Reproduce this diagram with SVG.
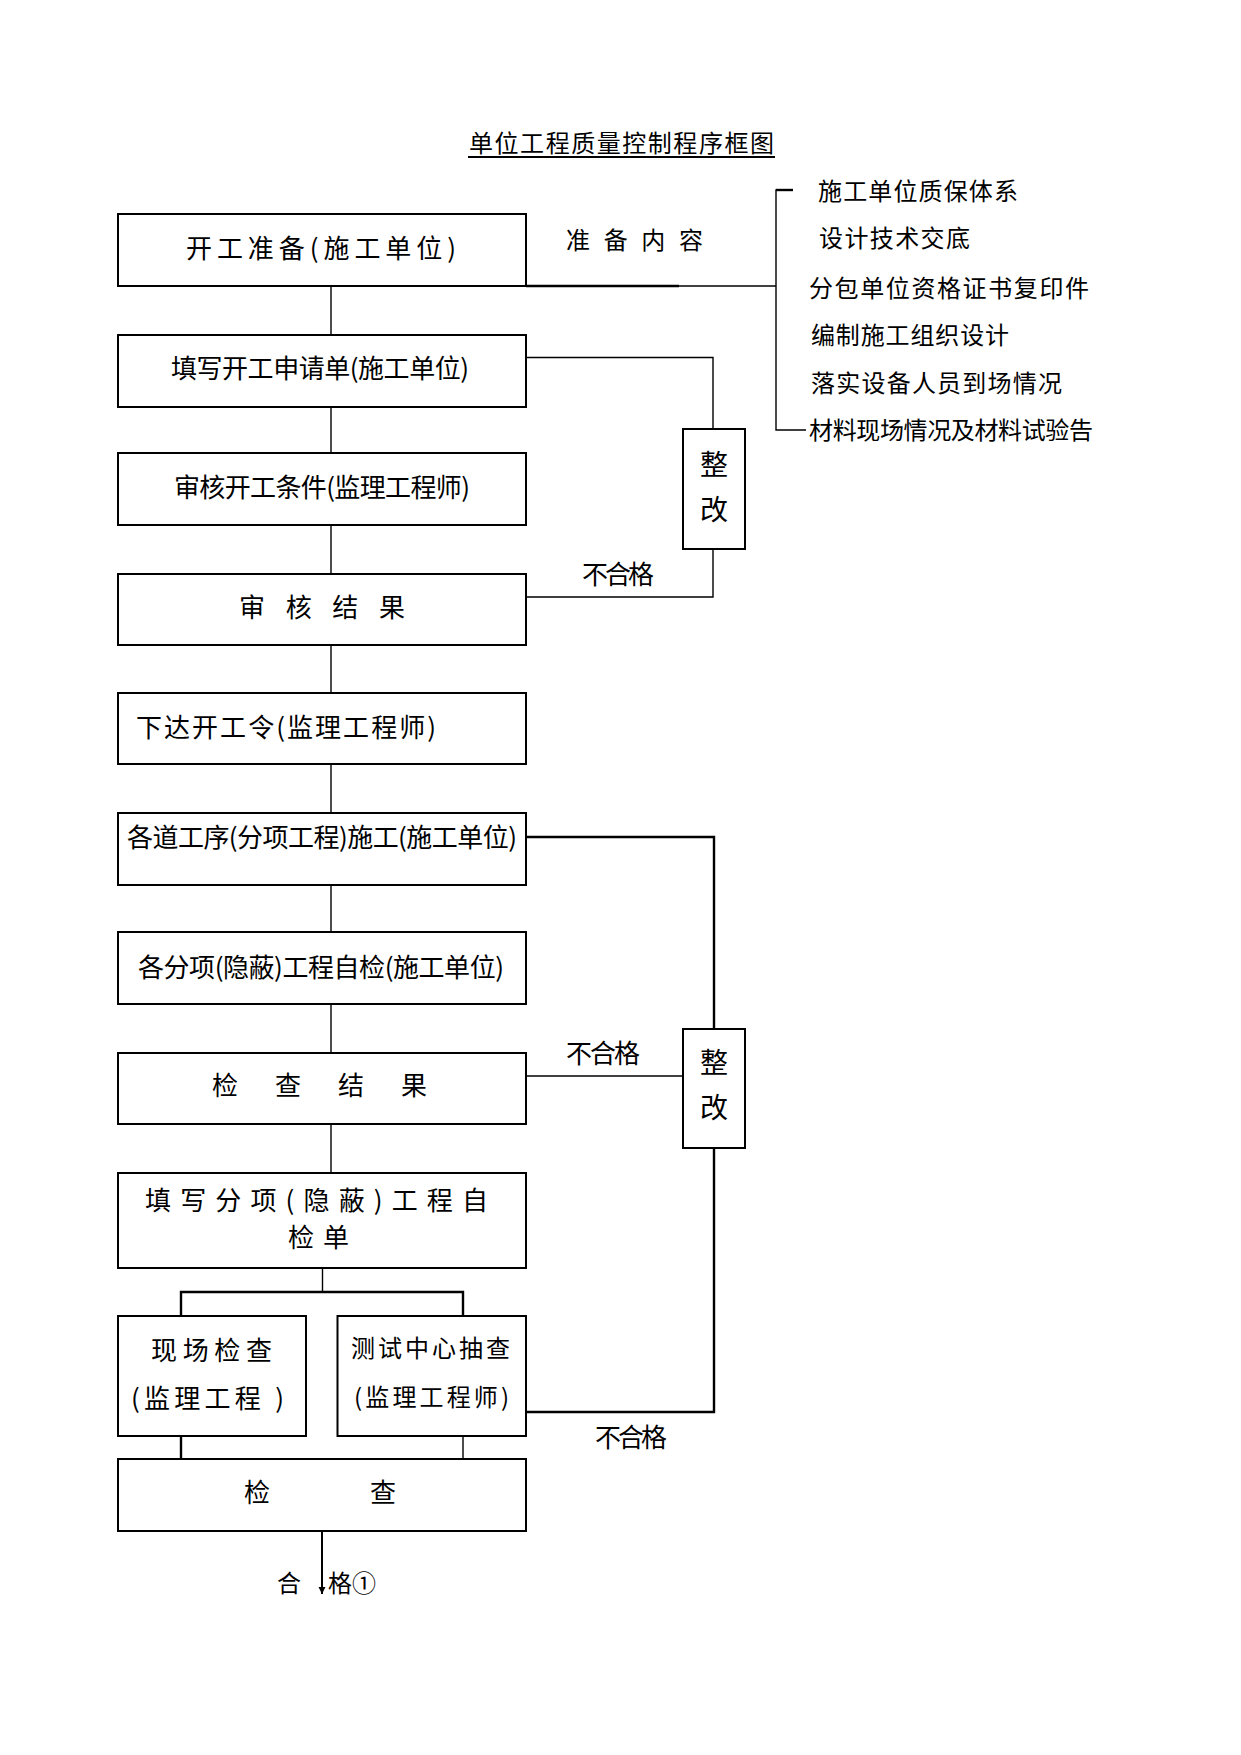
<svg xmlns="http://www.w3.org/2000/svg" width="1241" height="1755" viewBox="0 0 1241 1755">
<style>
text{font-family:"Noto Sans CJK SC","Noto Sans",sans-serif;fill:#000;dominant-baseline:central}
.b{fill:#fff;stroke:#000;stroke-width:2}
.c{fill:none;stroke:#000;stroke-width:1.4}
.t{fill:none;stroke:#000;stroke-width:2.4}
.f26{font-size:26px}.f24{font-size:24px}.f28{font-size:28px}
</style>
<defs>
<marker id="ah" viewBox="0 0 10 10" refX="10" refY="5" markerWidth="7" markerHeight="9" orient="auto" markerUnits="userSpaceOnUse"><path d="M0,0 L10,5 L0,10 Z" fill="#000"/></marker>
</defs>
<rect width="1241" height="1755" fill="#fff"/>
<g id="title">
<text x="469" y="141" class="f24" textLength="305" lengthAdjust="spacing">单位工程质量控制程序框图</text>
<line x1="468" y1="157" x2="775" y2="157" stroke="#000" stroke-width="2"/>
</g>
<g id="connectors">
<line class="c" x1="331" y1="286" x2="331" y2="335"/>
<line class="c" x1="331" y1="407" x2="331" y2="453"/>
<line class="c" x1="331" y1="525" x2="331" y2="574"/>
<line class="c" x1="331" y1="645" x2="331" y2="693"/>
<line class="c" x1="331" y1="764" x2="331" y2="813"/>
<line class="c" x1="331" y1="885" x2="331" y2="932"/>
<line class="c" x1="331" y1="1004" x2="331" y2="1053"/>
<line class="c" x1="331" y1="1124" x2="331" y2="1173"/>
<line x1="526" y1="286" x2="679" y2="286" stroke="#000" stroke-width="2.6"/>
<line class="c" x1="679" y1="286" x2="776" y2="286"/>
<polyline class="c" points="793,190 776,190 776,430 806,430"/>
<line x1="776" y1="190" x2="793" y2="190" stroke="#000" stroke-width="2.4"/>
<polyline class="c" points="526,357.5 713,357.5 713,429"/>
<polyline class="c" points="713,549 713,597 526,597"/>
<polyline class="t" points="526,837 714,837 714,1029"/>
<polyline class="t" points="714,1148 714,1412 526,1412"/>
<line class="c" x1="526" y1="1076" x2="683" y2="1076"/>
<line class="c" x1="322.5" y1="1268" x2="322.5" y2="1292"/>
<polyline class="t" points="181,1316 181,1292 463,1292 463,1316"/>
<line class="t" x1="181" y1="1436" x2="181" y2="1459"/>
<line class="c" x1="463" y1="1436" x2="463" y2="1459"/>
<line x1="322" y1="1531" x2="322" y2="1594" stroke="#000" stroke-width="2" marker-end="url(#ah)"/>
</g>
<g id="n1"><rect class="b" x="118" y="214" width="408" height="72"/><text x="186" y="246" class="f26" textLength="270" lengthAdjust="spacing">开工准备(施工单位)</text></g>
<g id="prep"><text x="566" y="238" class="f24" textLength="137" lengthAdjust="spacing">准备内容</text></g>
<g id="list">
<text x="818" y="189" class="f24" textLength="200" lengthAdjust="spacing">施工单位质保体系</text>
<text x="819" y="236" class="f24" textLength="151" lengthAdjust="spacing">设计技术交底</text>
<text x="809" y="286" class="f24" textLength="280" lengthAdjust="spacing">分包单位资格证书复印件</text>
<text x="811" y="333" class="f24" textLength="198" lengthAdjust="spacing">编制施工组织设计</text>
<text x="811" y="381" class="f24" textLength="251" lengthAdjust="spacing">落实设备人员到场情况</text>
<text x="809" y="428" class="f24" textLength="284" lengthAdjust="spacing">材料现场情况及材料试验告</text>
</g>
<g id="n2"><rect class="b" x="118" y="335" width="408" height="72"/><text x="171" y="366" class="f26" textLength="298" lengthAdjust="spacing">填写开工申请单(施工单位)</text></g>
<g id="n3"><rect class="b" x="118" y="453" width="408" height="72"/><text x="174" y="485" class="f26" textLength="296" lengthAdjust="spacing">审核开工条件(监理工程师)</text></g>
<g id="fix1"><rect class="b" x="683" y="429" width="62" height="120"/><text x="714" y="463" class="f28" text-anchor="middle">整</text><text x="714" y="508" class="f28" text-anchor="middle">改</text></g>
<g id="lbl1"><text x="582" y="572" class="f26" textLength="72" lengthAdjust="spacing">不合格</text></g>
<g id="n4"><rect class="b" x="118" y="574" width="408" height="71"/><text x="239" y="605" class="f26" textLength="166" lengthAdjust="spacing">审核结果</text></g>
<g id="n5"><rect class="b" x="118" y="693" width="408" height="71"/><text x="136" y="725" class="f26" textLength="300" lengthAdjust="spacing">下达开工令(监理工程师)</text></g>
<g id="n6"><rect class="b" x="118" y="813" width="408" height="72"/><text x="127" y="835" class="f26" textLength="390" lengthAdjust="spacing">各道工序(分项工程)施工(施工单位)</text></g>
<g id="n7"><rect class="b" x="118" y="932" width="408" height="72"/><text x="138" y="965" class="f26" textLength="366" lengthAdjust="spacing">各分项(隐蔽)工程自检(施工单位)</text></g>
<g id="n8"><rect class="b" x="118" y="1053" width="408" height="71"/><text x="212" y="1083" class="f26" textLength="215" lengthAdjust="spacing">检查结果</text></g>
<g id="fix2"><rect class="b" x="683" y="1029" width="62" height="119"/><text x="714" y="1061" class="f28" text-anchor="middle">整</text><text x="714" y="1106" class="f28" text-anchor="middle">改</text></g>
<g id="lbl2"><text x="566" y="1051" class="f26" textLength="74" lengthAdjust="spacing">不合格</text></g>
<g id="n9"><rect class="b" x="118" y="1173" width="408" height="95"/><text x="145" y="1198" class="f26" textLength="343" lengthAdjust="spacing">填写分项(隐蔽)工程自</text><text x="288" y="1235" class="f26" textLength="61" lengthAdjust="spacing">检单</text></g>
<g id="n10"><rect class="b" x="118" y="1316" width="188" height="120"/><text x="151" y="1348" class="f26" textLength="121" lengthAdjust="spacing">现场检查</text><text x="131" y="1396" class="f26" textLength="153" lengthAdjust="spacing">(监理工程 )</text></g>
<g id="n11"><rect class="b" x="337.5" y="1316" width="188.5" height="120"/><text x="351" y="1346" class="f24" textLength="159" lengthAdjust="spacing">测试中心抽查</text><text x="354" y="1395" class="f24" textLength="155" lengthAdjust="spacing">(监理工程师)</text></g>
<g id="lbl3"><text x="595" y="1435" class="f26" textLength="72" lengthAdjust="spacing">不合格</text></g>
<g id="n12"><rect class="b" x="118" y="1459" width="408" height="72"/><text x="244" y="1490" class="f26">检</text><text x="370" y="1490" class="f26">查</text></g>
<g id="pass"><text x="277" y="1581" class="f24">合</text><text x="328" y="1581" class="f24" textLength="48" lengthAdjust="spacing">格①</text></g>
</svg>
